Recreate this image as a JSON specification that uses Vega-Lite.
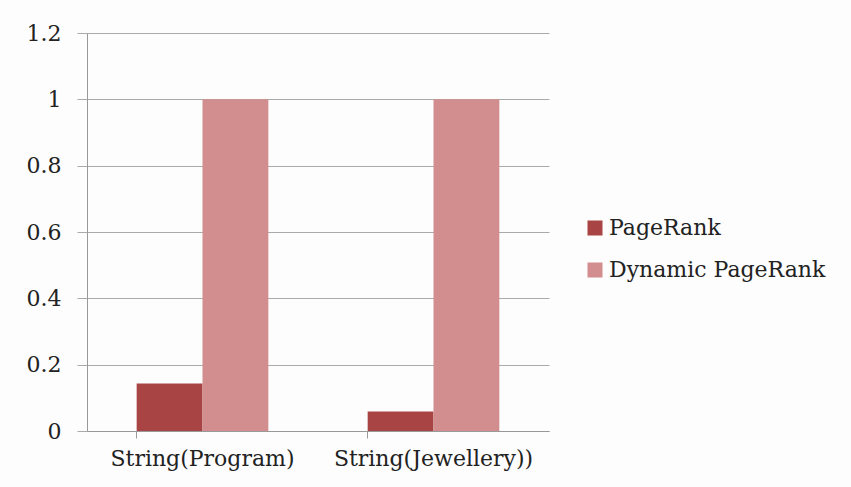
{
  "$schema": "https://vega.github.io/schema/vega-lite/v6.json",
  "width": 462,
  "height": 398,
  "autosize": {"type": "none"},
  "padding": {"left": 87, "top": 33, "right": 302, "bottom": 56},
  "background": "#fdfdfd",
  "data": {
    "values": [
      {"query": "String(Program)", "series": "PageRank", "value": 0.143},
      {"query": "String(Program)", "series": "Dynamic PageRank", "value": 1.0},
      {"query": "String(Jewellery))", "series": "PageRank", "value": 0.059},
      {"query": "String(Jewellery))", "series": "Dynamic PageRank", "value": 1.0}
    ]
  },
  "mark": {"type": "bar"},
  "encoding": {
    "x": {
      "field": "query",
      "type": "nominal",
      "sort": null,
      "title": null,
      "scale": {"paddingInner": 0.43, "paddingOuter": 0.215},
      "axis": {
        "labelAngle": 0,
        "labelFont": "DejaVu Serif",
        "labelFontSize": 22,
        "labelColor": "#222",
        "labelPadding": 10,
        "labelLimit": 400,
        "bandPosition": 0,
        "tickSize": 7,
        "tickColor": "#999",
        "domainColor": "#999",
        "grid": false
      }
    },
    "xOffset": {"field": "series", "type": "nominal", "sort": ["PageRank", "Dynamic PageRank"]},
    "y": {
      "field": "value",
      "type": "quantitative",
      "title": null,
      "scale": {"domain": [0, 1.2]},
      "axis": {
        "values": [0, 0.2, 0.4, 0.6, 0.8, 1, 1.2],
        "labelExpr": "datum.value",
        "labelFont": "DejaVu Serif",
        "labelFontSize": 22,
        "labelColor": "#222",
        "labelPadding": 16,
        "tickSize": 10,
        "tickColor": "#aaa",
        "domainColor": "#999",
        "gridColor": "#aaa"
      }
    },
    "color": {
      "field": "series",
      "type": "nominal",
      "sort": ["PageRank", "Dynamic PageRank"],
      "scale": {"domain": ["PageRank", "Dynamic PageRank"], "range": ["#A84444", "#D28E8E"]},
      "legend": {
        "title": null,
        "orient": "none",
        "legendX": 497,
        "legendY": 184,
        "symbolType": "square",
        "symbolSize": 225,
        "symbolStrokeWidth": 0,
        "labelFont": "DejaVu Serif",
        "labelFontSize": 22,
        "labelColor": "#222",
        "labelOffset": 3,
        "rowPadding": 20,
        "labelLimit": 400
      }
    }
  },
  "config": {"view": {"stroke": null}, "font": "DejaVu Serif"}
}
